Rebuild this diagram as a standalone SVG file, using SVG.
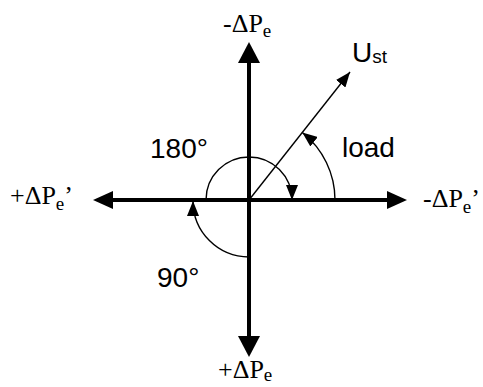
<svg xmlns="http://www.w3.org/2000/svg" width="483" height="387" viewBox="0 0 483 387">
<style>
.axis{stroke:#000;stroke-width:4;fill:none}
.thin{stroke:#000;stroke-width:1.4;fill:none}
.serif{font-family:"Liberation Serif","Times New Roman",serif;font-size:26px;fill:#000}
.sans{font-family:"Liberation Sans",Arial,sans-serif;font-size:28px;fill:#000}
</style>
<defs>
<marker id="headV" markerUnits="userSpaceOnUse" viewBox="0 0 21 22" refX="0" refY="11" markerWidth="21" markerHeight="22" orient="auto-start-reverse">
<path d="M0,0 L21,11 L0,22 Z" fill="#000"/>
</marker>
<marker id="headH" markerUnits="userSpaceOnUse" viewBox="0 0 20 18" refX="0" refY="9" markerWidth="20" markerHeight="18" orient="auto-start-reverse">
<path d="M0,0 L20,9 L0,18 Z" fill="#000"/>
</marker>
<marker id="headS" markerUnits="userSpaceOnUse" viewBox="0 0 15 12" refX="15" refY="6" markerWidth="15" markerHeight="12" orient="auto">
<path d="M0,0 L15,6 L0,12 Z" fill="#000"/>
</marker>
</defs>
<g id="connectors">
<line class="axis" x1="249" y1="336" x2="249" y2="63" marker-start="url(#headV)" marker-end="url(#headV)"/>
<line class="axis" x1="113" y1="200" x2="387" y2="200" marker-start="url(#headH)" marker-end="url(#headH)"/>
<line class="thin" x1="249" y1="200" x2="350" y2="72" marker-end="url(#headS)"/>
<path class="thin" d="M206,200 A43,43 0 0 1 292,200" marker-end="url(#headS)"/>
<path class="thin" d="M335,200 A86,86 0 0 0 302.3,132.5" marker-end="url(#headS)"/>
<path class="thin" d="M249,257 A56,56 0 0 1 193,201" marker-end="url(#headS)"/>
</g>
<g id="label-top"><text class="serif" x="223" y="32">-ΔP<tspan font-size="19" dy="5">e</tspan></text></g>
<g id="label-left"><text class="serif" x="10" y="204">+ΔP<tspan font-size="19" dy="6">e</tspan><tspan dy="-6">’</tspan></text></g>
<g id="label-right"><text class="serif" x="423" y="207">-ΔP<tspan font-size="19" dy="6">e</tspan><tspan dy="-6">’</tspan></text></g>
<g id="label-bottom"><text class="serif" x="218" y="378">+ΔP<tspan font-size="19" dy="3">e</tspan></text></g>
<g id="label-ust"><text class="sans" x="352" y="62">U<tspan font-size="19" dy="1">st</tspan></text></g>
<g id="label-load"><text class="sans" x="342" y="157">load</text></g>
<g id="label-180"><text class="sans" x="150" y="158">180°</text></g>
<g id="label-90"><text class="sans" x="157" y="287">90°</text></g>
</svg>
